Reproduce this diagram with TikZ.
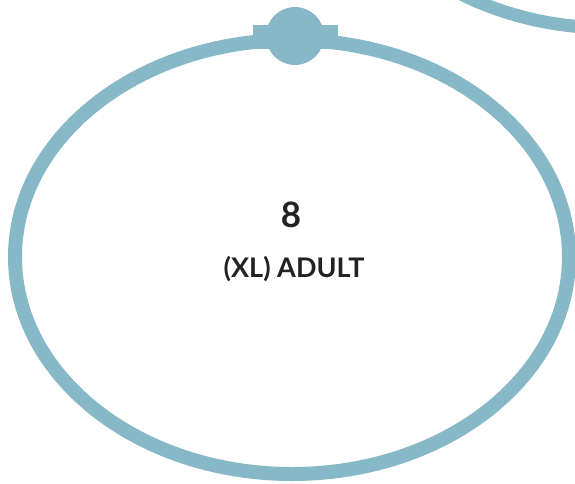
\documentclass[tikz,border=0pt]{standalone}
\usepackage{fontspec}
\setmainfont{Lato}
\definecolor{ringblue}{HTML}{87B8C8}
\definecolor{labelgray}{HTML}{222222}
\begin{document}
\begin{tikzpicture}[x=1pt,y=-1pt]
	\useasboundingbox (0,0) rectangle (575,483);
	\clip (0,0) rectangle (575,483);
	
	% ring of the next size (top right, cut off)
	\draw[ringblue, line width=13pt] (610,-189) ellipse [x radius=277, y radius=217];
	
	% main ring
	\draw[ringblue, line width=14pt] (292,257) ellipse [x radius=277, y radius=217];
	
	% clasp on top of the ring
	\fill[ringblue] (253,25) rectangle (338,49);
	\fill[ringblue] (295,36) circle (29);
	
	% labels
	\node[labelgray, anchor=base, font=\bfseries\fontsize{35}{40}\selectfont] (size) at (291,227) {8};
	\node[labelgray, anchor=base, font=\bfseries\fontsize{27}{32}\selectfont] (name) at (294,277) {(XL) ADULT};

\end{tikzpicture}
\end{document}
